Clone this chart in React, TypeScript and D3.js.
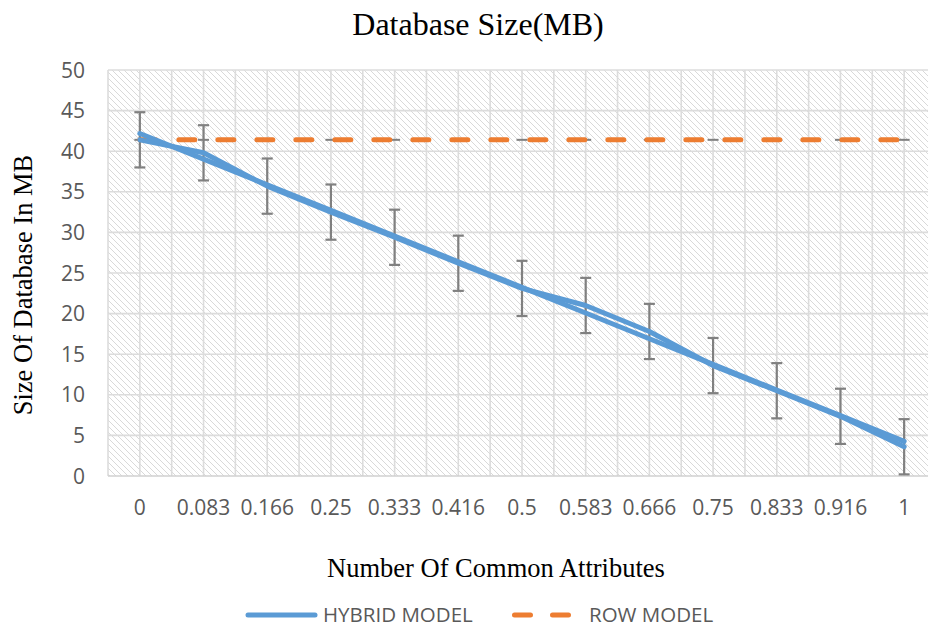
import React from 'react'
import * as d3 from 'd3'

const categories = ['0', '0.083', '0.166', '0.25', '0.333', '0.416', '0.5', '0.583', '0.666', '0.75', '0.833', '0.916', '1']
const hybridModel = [41.4, 39.8, 35.7, 32.5, 29.4, 26.2, 23.1, 21.0, 17.8, 13.6, 10.5, 7.35, 3.6]
const rowModel = [41.4, 41.4, 41.4, 41.4, 41.4, 41.4, 41.4, 41.4, 41.4, 41.4, 41.4, 41.4, 41.4]
const hybridError = 3.4
const yTicks = [0, 5, 10, 15, 20, 25, 30, 35, 40, 45, 50]

const W = 928
const H = 631
const left = 108
const right = 936
const top = 70
const bottom = 476

const BLUE = '#5B9BD5'
const ORANGE = '#ED7D31'
const GRID = '#dcdcdc'
const TEXT = '#595959'
const SANS = '"Open Sans", sans-serif'
const SERIF = '"Liberation Serif", "Times New Roman", serif'

const App = () => {
  const x = d3.scalePoint<string>().domain(categories).range([left, right]).padding(0.5)
  const step = x.step()
  const y = d3.scaleLinear().domain([0, 50]).range([bottom, top])

  // linear trend of the hybrid series
  const idx = hybridModel.map((_, i) => i)
  const mx = d3.mean(idx) as number
  const my = d3.mean(hybridModel) as number
  const slope =
    d3.sum(idx, (i) => (i - mx) * (hybridModel[i] - my)) / d3.sum(idx, (i) => (i - mx) * (i - mx))
  const intercept = my - slope * mx
  const trend = idx.map((i) => intercept + slope * i)

  const line = d3
    .line<number>()
    .x((_, i) => x(categories[i]) as number)
    .y((d) => y(d))

  const vGrid: number[] = []
  categories.forEach((c) => {
    const cx = x(c) as number
    vGrid.push(cx - step / 2, cx)
  })
  vGrid.push(right)

  const cap = 5.5

  return (
    <svg width={W} height={H} style={{ position: 'absolute', left: 0, top: 0, background: '#fff' }}>
      <defs>
        <pattern id="hatch" width={6} height={6} patternUnits="userSpaceOnUse">
          <path d="M-1,-1 L7,7 M-1,5 L1,7 M5,-1 L7,1" stroke="#d9d9d9" strokeWidth={1} />
        </pattern>
      </defs>

      <text x={478} y={35} textAnchor="middle" fontFamily={SERIF} fontSize={32} fill="#000">
        Database Size(MB)
      </text>

      <rect x={left} y={top} width={right - left} height={bottom - top} fill="url(#hatch)" />

      {vGrid.map((gx, i) => (
        <line key={'v' + i} x1={gx} x2={gx} y1={top} y2={bottom} stroke={GRID} strokeWidth={1.6} />
      ))}
      {yTicks.map((t) => (
        <line key={'h' + t} x1={left} x2={right} y1={y(t)} y2={y(t)} stroke={t === 0 ? '#d0d0d0' : GRID} strokeWidth={1.6} />
      ))}

      {yTicks.map((t) => (
        <text key={'yt' + t} x={85} y={y(t)} dy="0.36em" textAnchor="end" fontFamily={SANS} fontSize={21} fill={TEXT}>
          {t}
        </text>
      ))}
      {categories.map((c) => (
        <text key={'xt' + c} x={x(c)} y={515} textAnchor="middle" fontFamily={SANS} fontSize={21} fill={TEXT}>
          {c}
        </text>
      ))}

      {/* zero-size error bars of the row series */}
      {categories.map((c, i) => (
        <line key={'rc' + c} x1={(x(c) as number) - cap} x2={(x(c) as number) + cap} y1={y(rowModel[i])} y2={y(rowModel[i])} stroke="#808080" strokeWidth={2} />
      ))}
      <path d={line(rowModel) as string} fill="none" stroke={ORANGE} strokeWidth={5} strokeDasharray="16,23" strokeLinecap="round" />

      {categories.map((c, i) => {
        const cx = x(c) as number
        const hi = y(hybridModel[i] + hybridError)
        const lo = y(hybridModel[i] - hybridError)
        return (
          <g key={'e' + c} stroke="#808080" strokeWidth={2.2}>
            <line x1={cx} x2={cx} y1={hi} y2={lo} />
            <line x1={cx - cap} x2={cx + cap} y1={hi} y2={hi} />
            <line x1={cx - cap} x2={cx + cap} y1={lo} y2={lo} />
          </g>
        )
      })}

      <path d={line(hybridModel) as string} fill="none" stroke={BLUE} strokeWidth={5} strokeLinejoin="round" strokeLinecap="round" />
      <path d={line(trend) as string} fill="none" stroke={BLUE} strokeWidth={5} strokeLinecap="round" />

      <text x={496} y={577} textAnchor="middle" fontFamily={SERIF} fontSize={26.5} fill="#000">
        Number Of Common Attributes
      </text>
      <text transform="translate(32,285) rotate(-90)" textAnchor="middle" fontFamily={SERIF} fontSize={26.5} fill="#000">
        Size Of Database In MB
      </text>

      <line x1={248} x2={315} y1={615} y2={615} stroke={BLUE} strokeWidth={5} strokeLinecap="round" />
      <text x={323} y={622} fontFamily={SANS} fontSize={20.5} fill={TEXT}>
        HYBRID MODEL
      </text>
      <line x1={514.5} x2={568.5} y1={615} y2={615} stroke={ORANGE} strokeWidth={5} strokeDasharray="16,22" strokeLinecap="round" />
      <text x={589} y={622} fontFamily={SANS} fontSize={20.5} fill={TEXT}>
        ROW MODEL
      </text>
    </svg>
  )
}

export default App
